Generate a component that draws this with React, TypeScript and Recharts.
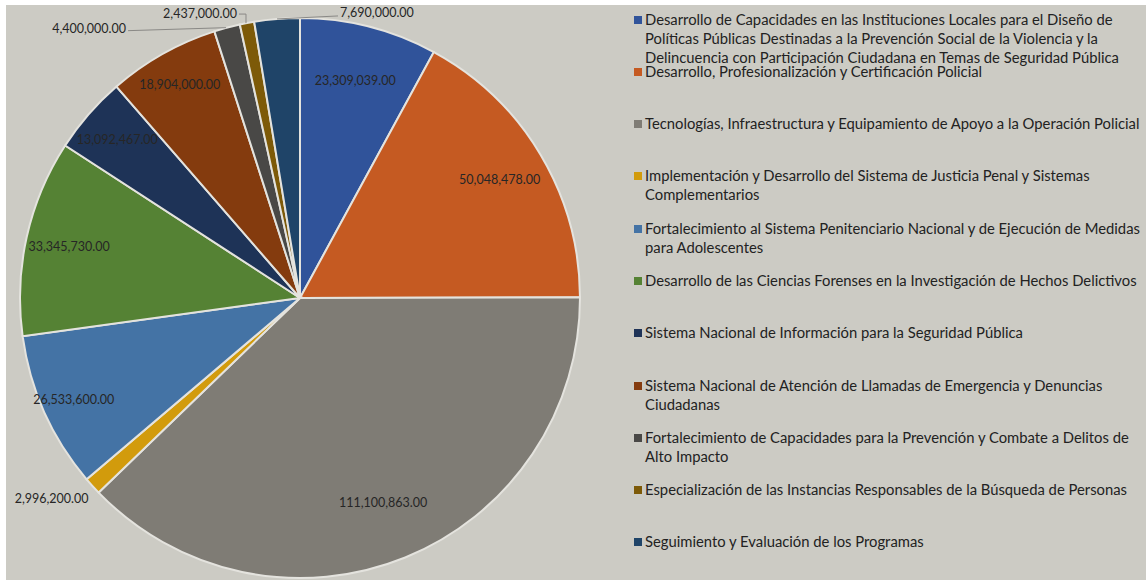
import React from "react";
import { PieChart, Pie, Cell, Legend } from "recharts";

const FONT = "Lato, 'Open Sans', sans-serif";

const programs = [
  "Desarrollo de Capacidades en las Instituciones Locales para el Diseño de Políticas Públicas Destinadas a la Prevención Social de la Violencia y la Delincuencia con Participación Ciudadana en Temas de Seguridad Pública",
  "Desarrollo, Profesionalización y Certificación Policial",
  "Tecnologías, Infraestructura y Equipamiento de Apoyo a la Operación Policial",
  "Implementación y Desarrollo del Sistema de Justicia Penal y Sistemas Complementarios",
  "Fortalecimiento al Sistema Penitenciario Nacional y de Ejecución de Medidas para Adolescentes",
  "Desarrollo de las Ciencias Forenses en la Investigación de Hechos Delictivos",
  "Sistema Nacional de Información para la Seguridad Pública",
  "Sistema Nacional de Atención de Llamadas de Emergencia y Denuncias Ciudadanas",
  "Fortalecimiento de Capacidades para la Prevención y Combate a Delitos de Alto Impacto",
  "Especialización de las Instancias Responsables de la Búsqueda de Personas",
  "Seguimiento y Evaluación de los Programas",
];

const amounts = [
  23309039, 50048478, 111100863, 2996200, 26533600, 33345730, 13092467,
  18904000, 4400000, 2437000, 7690000,
];

const colors = [
  "#30539a", "#c55a22", "#7f7c75", "#d29b0c", "#4473a5", "#558234",
  "#1e3357", "#843b0e", "#494846", "#7d5a08", "#1f4468",
];

const data = programs.map((name, i) => ({ name, value: amounts[i] }));

// how far out the inside labels sit, as a share of the radius (0 = outside)
const insideRadius = [0.8, 0.83, 0.79, 0, 0.885, 0.845, 0.865, 0.875, 0, 0, 0];

const RAD = Math.PI / 180;
const fmt = (v: number) =>
  v.toLocaleString("en-US", { minimumFractionDigits: 2, maximumFractionDigits: 2 });

const renderLabel = (props: any) => {
  const { cx, cy, midAngle, outerRadius, index } = props;
  const value = props.value ?? props.payload?.value;
  const pt = (r: number) => ({
    x: cx + r * Math.cos(-midAngle * RAD),
    y: cy + r * Math.sin(-midAngle * RAD),
  });
  const text = fmt(value);
  const txt = { fill: "#262626", fontSize: 12.5, fontFamily: FONT, dominantBaseline: "central" as const };
  const line = { stroke: "#8a8986", strokeWidth: 1, fill: "none" };
  const edge = pt(outerRadius);

  if (insideRadius[index]) {
    const p = pt(outerRadius * insideRadius[index]);
    return (
      <text x={p.x} y={p.y} textAnchor="middle" {...txt}>
        {text}
      </text>
    );
  }
  if (index === 3) {
    return (
      <text x={edge.x - 4} y={edge.y + 12} textAnchor="end" {...txt}>
        {text}
      </text>
    );
  }
  if (index === 8) {
    return (
      <g>
        <path d={`M${edge.x - 1},${edge.y} L${edge.x - 99},${edge.y + 3}`} {...line} />
        <text x={edge.x - 101} y={edge.y + 1} textAnchor="end" {...txt}>
          {text}
        </text>
      </g>
    );
  }
  if (index === 9) {
    return (
      <g>
        <path
          d={`M${edge.x - 1},${edge.y} L${edge.x - 1},${edge.y - 9} L${edge.x - 8},${edge.y - 9}`}
          {...line}
        />
        <text x={edge.x - 10} y={edge.y - 10} textAnchor="end" {...txt}>
          {text}
        </text>
      </g>
    );
  }
  return (
    <g>
      <path d={`M${edge.x},${edge.y} L${edge.x + 61},${edge.y - 3}`} {...line} />
      <text x={edge.x + 63} y={edge.y - 6} textAnchor="start" {...txt}>
        {text}
      </text>
    </g>
  );
};

// legend keeps the data order (recharts would sort the payload by name)
const renderLegend = () => (
  <div style={{ width: 512, fontFamily: FONT, fontSize: 14.8, color: "#222222", textAlign: "left" }}>
    {programs.map((name, i) => (
      <div
        key={name}
        style={{ position: "relative", height: 52.3, lineHeight: "19px", paddingLeft: 11 }}
      >
        <span
          style={{
            position: "absolute",
            left: 0,
            top: 6,
            width: 8,
            height: 8,
            background: colors[i],
          }}
        />
        {name}
      </div>
    ))}
  </div>
);

export default function App() {
  return (
    <div
      style={{
        position: "absolute",
        left: 0,
        top: 0,
        width: 1146,
        height: 580,
        background: "#ffffff",
        overflow: "hidden",
      }}
    >
      <div
        style={{
          position: "absolute",
          left: 6,
          top: 5,
          right: 0,
          bottom: 0,
          background: "#cccbc4",
        }}
      />
      <div style={{ position: "absolute", left: 0, top: 0 }}>
        <PieChart width={1146} height={580} margin={{ top: 0, right: 0, bottom: 0, left: 0 }}>
          <Pie
            data={data}
            dataKey="value"
            nameKey="name"
            cx={300}
            cy={298}
            outerRadius={280}
            startAngle={90}
            endAngle={-270}
            stroke="#e4e3de"
            strokeWidth={2}
            label={renderLabel}
            labelLine={false}
            isAnimationActive={false}
          >
            {data.map((d, i) => (
              <Cell key={d.name} fill={colors[i]} />
            ))}
          </Pie>
          <Legend
            layout="vertical"
            align="right"
            verticalAlign="top"
            content={renderLegend}
            wrapperStyle={{ position: "absolute", left: 634, top: 9.5, width: 512 }}
          />
        </PieChart>
      </div>
    </div>
  );
}
